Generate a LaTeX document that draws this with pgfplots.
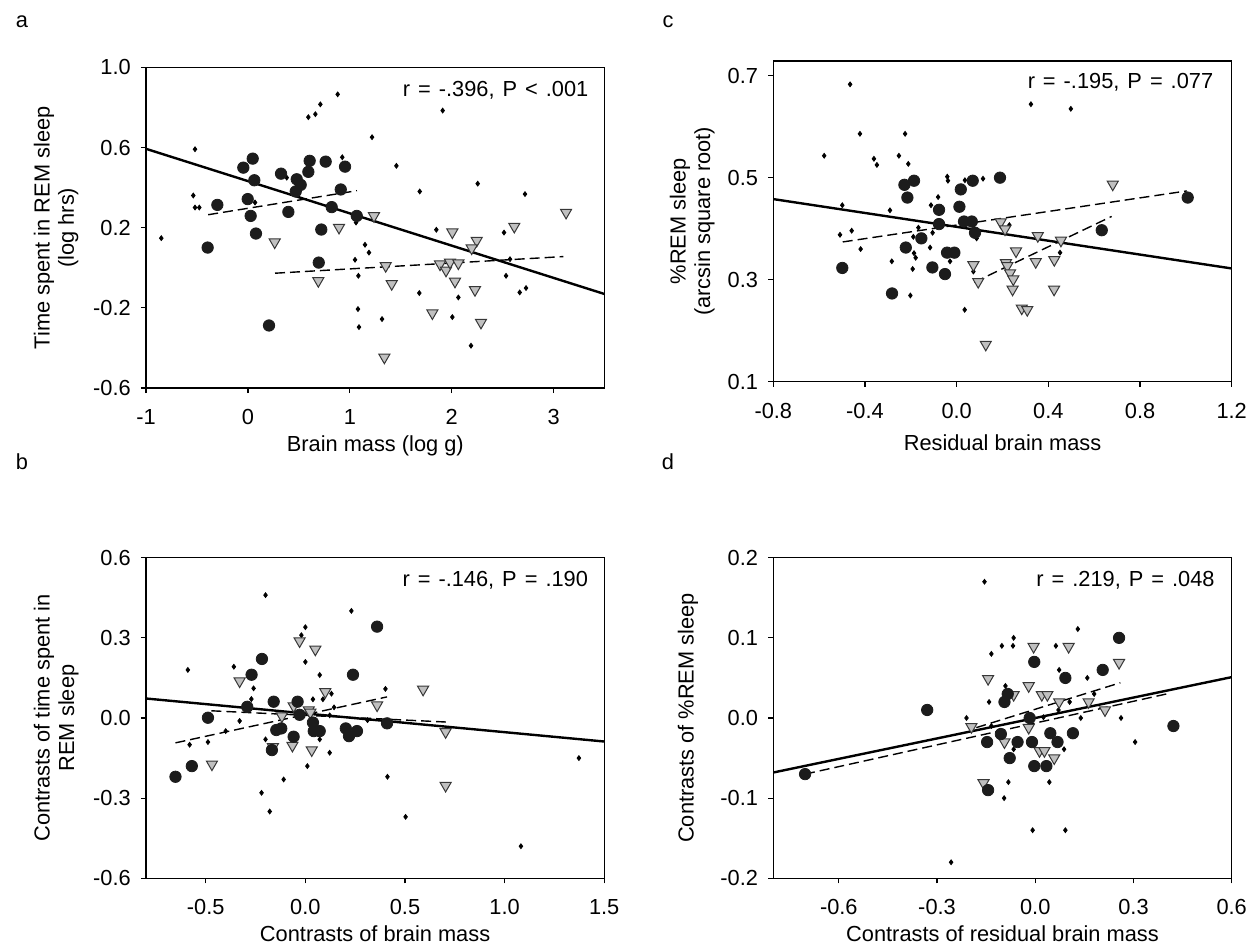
\documentclass[border=0pt]{standalone}
\usepackage{fontspec}
\setmainfont{Liberation Sans}
\usepackage{pgfplots}
\pgfplotsset{compat=1.18}

\definecolor{circfill}{RGB}{28,28,28}
\definecolor{trifill}{RGB}{192,192,192}
\definecolor{tridraw}{RGB}{55,55,55}
\newcommand{\fs}{\fontsize{10.9}{12.2}\selectfont}
% the r/P statements are set with wider word spaces
\newcommand{\stat}[1]{{\fs\spaceskip=4pt plus 1pt #1}}

\pgfplotsset{
  panel/.style={
    scale only axis, anchor=south west,
    axis line style={line width=0.6pt},
    every tick/.style={black, line width=0.6pt},
    tick align=outside, major tick length=2.6pt,
    xtick pos=left, ytick pos=left,
    ticklabel style={font=\fs},
    xticklabel style={yshift=-4.5pt},
    yticklabel style={xshift=-1.5pt},
    label style={font=\fs},
    ylabel style={align=center, anchor=center},
    xlabel style={anchor=center},
  },
  circ/.style={only marks, mark=*, mark size=2.85pt, mark options={fill=circfill, draw=circfill}},
  tri/.style={only marks, mark=triangle*, mark size=3.2pt,
    mark options={rotate=180, fill=trifill, draw=tridraw, line width=0.5pt}},
  dia/.style={only marks, mark=diamond*, mark size=1.2pt, mark options={fill=black, draw=black}},
  fitline/.style={black, line width=1.2pt, no marks},
  subline/.style={black, line width=0.7pt, dash pattern=on 5pt off 2.5pt, no marks},
}

\begin{document}
\begin{tikzpicture}
\useasboundingbox (0,0) rectangle (629pt,473.5pt);

% panel letters
\node[font=\fs] at (11pt,462.5pt) {a};
\node[font=\fs] at (334pt,462.5pt) {c};
\node[font=\fs] at (11pt,242.5pt) {b};
\node[font=\fs] at (334pt,242.5pt) {d};

% ---------- a ----------
\begin{axis}[panel, at={(73pt,279.5pt)}, width=229.3pt, height=160.25pt,
    xmin=-1, xmax=3.5, ymin=-0.6, ymax=1.0,
    xtick={-1,0,1,2,3}, xticklabels={-1,0,1,2,3},
    ytick={-0.6,-0.2,0.2,0.6,1.0}, yticklabels={-0.6,-0.2,0.2,0.6,1.0},
    xlabel={Brain mass (log g)},
    ylabel={Time spent in REM sleep\\(log hrs)},
    xlabel style={at={(axis description cs:0.5,-0.182)}},
    ylabel style={at={(axis description cs:-0.196,0.5)}}]
\addplot[fitline] coordinates {(-1,0.594) (3.5,-0.131)};
\addplot[subline] coordinates {(-0.39,0.265) (1.07,0.385)};
\addplot[subline] coordinates {(0.266,-0.027) (3.095,0.056)};
\addplot[dia] coordinates {
 (-0.85,0.148) (-0.519,0.592) (-0.536,0.361) (-0.519,0.301) (-0.477,0.301)
 (0.593,0.752) (0.662,0.767) (0.711,0.816) (0.881,0.866) (0.926,0.552)
 (0.381,0.45) (0.07,0.326) (1.051,0.04) (1.084,-0.04) (1.08,-0.206)
 (1.09,-0.296) (1.218,0.652) (1.911,0.785) (1.457,0.509) (1.686,0.381)
 (2.255,0.42) (2.719,0.368) (1.061,0.226) (1.149,0.115) (1.188,0.076)
 (1.849,0.19) (2.513,0.176) (2.572,0.043) (2.533,-0.04) (2.667,-0.123)
 (2.729,-0.101) (1.682,-0.126) (2.065,-0.148) (1.316,-0.256) (2.006,-0.246)
 (2.189,-0.389)};
\addplot[tri] coordinates {
 (0.263,0.128) (0.894,0.201) (0.691,-0.065) (1.237,0.259) (2.006,0.178)
 (2.245,0.136) (2.196,0.098) (2.614,0.206) (3.122,0.276) (1.352,0.010)
 (1.411,-0.080) (1.885,0.018) (1.944,-0.013) (1.983,0.027) (2.065,0.023)
 (2.032,-0.068) (2.228,-0.11) (1.810,-0.226) (2.287,-0.273) (1.339,-0.447)};
\addplot[circ] coordinates {
 (-0.30,0.314) (-0.395,0.101) (-0.045,0.50) (0.047,0.545) (0.063,0.437)
 (-0.002,0.343) (0.027,0.259) (0.079,0.171) (0.207,-0.288) (0.325,0.47)
 (0.397,0.279) (0.479,0.442) (0.518,0.414) (0.469,0.381) (0.593,0.479)
 (0.606,0.534) (0.763,0.530) (0.953,0.505) (0.911,0.391) (0.822,0.303)
 (0.720,0.191) (0.695,0.026) (1.068,0.259)};
\node[anchor=east] at (rel axis cs:0.98,0.93) {\stat{r = -.396, P < .001}};
\end{axis}

% ---------- c ----------
\begin{axis}[panel, at={(386.65pt,282.65pt)}, width=229.2pt, height=160.35pt,
    xmin=-0.8, xmax=1.2, ymin=0.1, ymax=0.7288,
    xtick={-0.8,-0.4,0,0.4,0.8,1.2}, xticklabels={-0.8,-0.4,0.0,0.4,0.8,1.2},
    ytick={0.1,0.3,0.5,0.7}, yticklabels={0.1,0.3,0.5,0.7},
    xlabel={Residual brain mass},
    ylabel={\%REM sleep\\(arcsin square root)},
    xlabel style={at={(axis description cs:0.5,-0.19)}},
    ylabel style={at={(axis description cs:-0.177,0.5)}}]
\addplot[fitline] coordinates {(-0.8,0.458) (1.2,0.322)};
\addplot[subline] coordinates {(-0.497,0.374) (1.004,0.474)};
\addplot[subline] coordinates {(0.077,0.295) (0.676,0.424)};
\addplot[dia] coordinates {
 (-0.465,0.683) (-0.578,0.543) (-0.422,0.586) (-0.225,0.586) (-0.361,0.537)
 (-0.348,0.525) (-0.252,0.543) (-0.211,0.527) (-0.499,0.446) (-0.509,0.388)
 (-0.458,0.396) (-0.419,0.360) (-0.291,0.436) (-0.283,0.336) (-0.202,0.269)
 (-0.192,0.321) (-0.186,0.352) (-0.179,0.343) (-0.189,0.384) (-0.167,0.402)
 (-0.116,0.363) (-0.105,0.392) (-0.112,0.446) (-0.081,0.462) (-0.041,0.502)
 (-0.038,0.494) (-0.029,0.336) (0.036,0.495) (0.115,0.498) (0.035,0.241)
 (0.073,0.316) (0.087,0.381) (0.324,0.644) (0.498,0.635) (0.451,0.353)
 (0.23,0.407)};
\addplot[tri] coordinates {
 (0.073,0.329) (0.094,0.296) (0.127,0.173) (0.192,0.413) (0.211,0.399)
 (0.354,0.386) (0.455,0.377) (0.259,0.356) (0.681,0.487) (0.215,0.333)
 (0.221,0.327) (0.345,0.335) (0.426,0.339) (0.233,0.313) (0.247,0.301)
 (0.244,0.281) (0.425,0.281) (0.284,0.244) (0.308,0.241)};
\addplot[circ] coordinates {
 (-0.499,0.323) (-0.282,0.273) (-0.228,0.486) (-0.186,0.494) (-0.215,0.461)
 (-0.222,0.363) (-0.154,0.381) (-0.106,0.324) (-0.051,0.311) (-0.077,0.437)
 (-0.077,0.409) (-0.042,0.353) (-0.010,0.353) (0.012,0.443) (0.018,0.477)
 (0.07,0.494) (0.032,0.414) (0.066,0.414) (0.08,0.392) (0.189,0.50)
 (0.633,0.397) (1.008,0.461)};
\node[anchor=east] at (rel axis cs:0.975,0.935) {\stat{r = -.195, P = .077}};
\end{axis}

% ---------- b ----------
\begin{axis}[panel, at={(73pt,34.35pt)}, width=229.1pt, height=160.3pt,
    xmin=-0.8, xmax=1.5, ymin=-0.6, ymax=0.6,
    xtick={-0.5,0,0.5,1,1.5}, xticklabels={-0.5,0.0,0.5,1.0,1.5},
    ytick={-0.6,-0.3,0,0.3,0.6}, yticklabels={-0.6,-0.3,0.0,0.3,0.6},
    xlabel={Contrasts of brain mass},
    ylabel={Contrasts of time spent in\\REM sleep},
    xlabel style={at={(axis description cs:0.5,-0.172)}},
    ylabel style={at={(axis description cs:-0.196,0.5)}}]
\addplot[fitline] coordinates {(-0.8,0.073) (1.5,-0.088)};
\addplot[subline] coordinates {(-0.472,0.027) (0.705,-0.015)};
\addplot[subline] coordinates {(-0.652,-0.093) (0.41,0.079)};
\addplot[dia] coordinates {
 (-0.59,0.18) (-0.581,-0.1) (-0.489,-0.09) (-0.4,-0.049) (-0.359,0.192)
 (-0.33,-0.011) (-0.271,0.071) (-0.26,0.111) (-0.2,0.46) (-0.2,-0.08)
 (-0.22,-0.28) (-0.179,-0.35) (-0.109,-0.23) (-0.02,0.31) (0.0,0.34)
 (0.0,0.21) (0.072,0.161) (0.038,0.07) (0.088,0.07) (0.131,0.091)
 (0.072,-0.08) (0.01,-0.18) (0.122,-0.13) (0.122,0.01) (0.144,0.04)
 (0.231,0.401) (0.312,-0.008) (0.402,0.109) (0.412,-0.22) (0.503,-0.37)
 (1.082,-0.48) (1.373,-0.15)};
\addplot[tri] coordinates {
 (-0.469,-0.173) (-0.33,0.138) (-0.029,0.288) (0.05,0.257) (0.1,0.098)
 (-0.118,0.007) (-0.059,0.045) (0.017,0.03) (0.025,0.021) (-0.065,-0.103)
 (0.032,-0.12) (-0.163,-0.108) (0.36,0.048) (0.591,0.107) (0.704,-0.052)
 (0.704,-0.253)};
\addplot[circ] coordinates {
 (-0.652,-0.22) (-0.57,-0.18) (-0.489,0.001) (-0.292,0.042) (-0.27,0.162)
 (-0.218,0.221) (-0.159,0.061) (-0.039,0.061) (-0.029,0.012) (-0.146,-0.045)
 (-0.121,-0.039) (-0.168,-0.12) (-0.059,-0.07) (0.038,-0.017) (0.042,-0.049)
 (0.072,-0.049) (0.203,-0.039) (0.219,-0.068) (0.259,-0.049) (0.239,0.162)
 (0.36,0.342) (0.41,-0.02)};
\node[anchor=east] at (rel axis cs:0.98,0.93) {\stat{r = -.146, P = .190}};
\end{axis}

% ---------- d ----------
\begin{axis}[panel, at={(386.65pt,34.35pt)}, width=229.2pt, height=160.3pt,
    xmin=-0.8, xmax=0.6, ymin=-0.2, ymax=0.2,
    xtick={-0.6,-0.3,0,0.3,0.6}, xticklabels={-0.6,-0.3,0.0,0.3,0.6},
    ytick={-0.2,-0.1,0,0.1,0.2}, yticklabels={-0.2,-0.1,0.0,0.1,0.2},
    xlabel={Contrasts of residual brain mass},
    ylabel={Contrasts of \%REM sleep},
    xlabel style={at={(axis description cs:0.5,-0.172)}},
    ylabel style={at={(axis description cs:-0.186,0.5)}}]
\addplot[fitline] coordinates {(-0.8,-0.068) (0.6,0.051)};
\addplot[subline] coordinates {(-0.703,-0.07) (0.412,0.031)};
\addplot[subline] coordinates {(-0.18,-0.012) (0.26,0.044)};
\addplot[dia] coordinates {
 (-0.155,0.17) (-0.102,0.09) (-0.134,0.08) (-0.091,0.04) (-0.141,0.02)
 (-0.21,0.0) (-0.134,-0.01) (-0.082,-0.08) (-0.095,-0.1) (-0.257,-0.18)
 (-0.066,0.1) (-0.068,0.09) (0.063,0.09) (0.13,0.111) (0.073,0.06)
 (0.159,0.05) (0.18,0.03) (0.105,0.02) (0.071,0.01) (0.025,0.001)
 (0.139,0.0) (0.262,0.0) (0.305,-0.03) (-0.066,-0.039) (0.088,-0.039)
 (0.043,-0.08) (-0.008,-0.14) (0.092,-0.14)};
\addplot[tri] coordinates {
 (-0.144,0.049) (-0.195,-0.011) (-0.094,-0.03) (-0.158,-0.081) (-0.005,0.089)
 (0.102,0.089) (0.256,0.069) (-0.02,0.04) (-0.066,0.029) (0.02,0.029)
 (0.037,0.029) (0.073,0.02) (0.163,0.02) (0.213,0.01) (-0.02,-0.012)
 (0.013,-0.041) (0.028,-0.041) (0.058,-0.05)};
\addplot[circ] coordinates {
 (-0.703,-0.07) (-0.33,0.01) (-0.147,-0.03) (-0.144,-0.09) (-0.105,-0.02)
 (-0.094,0.02) (-0.084,0.03) (-0.078,-0.05) (-0.003,0.07) (0.256,0.1)
 (0.206,0.06) (0.092,0.05) (0.422,-0.01) (-0.017,0.0) (-0.054,-0.03)
 (-0.01,-0.03) (0.046,-0.019) (0.068,-0.03) (0.115,-0.019) (-0.003,-0.06)
 (0.034,-0.06)};
\node[anchor=east] at (rel axis cs:0.978,0.93) {\stat{r = .219, P = .048}};
\end{axis}
\end{tikzpicture}
\end{document}
